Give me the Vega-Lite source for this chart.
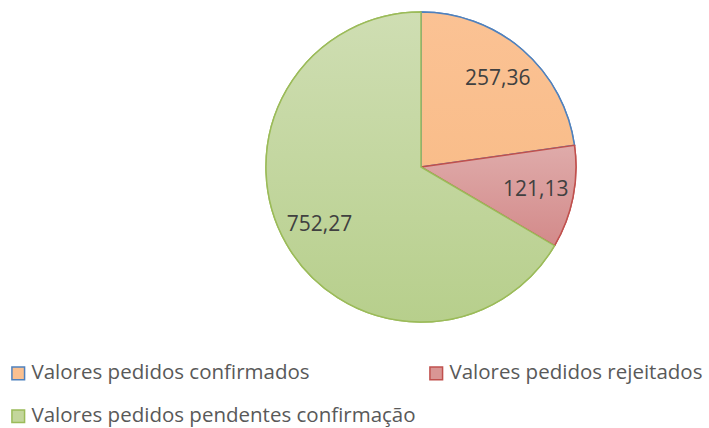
{
  "$schema": "https://vega.github.io/schema/vega-lite/v6.json",
  "width": 576,
  "height": 334,
  "padding": {"left": 8, "top": 0, "right": 0, "bottom": 94},
  "background": "white",
  "data": {
    "values": [
      {"categoria": "Valores pedidos confirmados", "valor": 257.36, "rotulo": "257,36", "ordem": 1},
      {"categoria": "Valores pedidos rejeitados", "valor": 121.13, "rotulo": "121,13", "ordem": 2},
      {"categoria": "Valores pedidos pendentes confirmação", "valor": 752.27, "rotulo": "752,27", "ordem": 3}
    ]
  },
  "encoding": {
    "theta": {"field": "valor", "type": "quantitative", "stack": true},
    "order": {"field": "ordem", "type": "quantitative"}
  },
  "layer": [
    {
      "mark": {"type": "arc", "outerRadius": 155, "strokeWidth": 1.5},
      "encoding": {
        "fill": {
          "field": "categoria", "type": "nominal",
          "scale": {
            "domain": ["Valores pedidos confirmados", "Valores pedidos rejeitados", "Valores pedidos pendentes confirmação"],
            "range": ["#FAC090", "#D99694", "#C3D69B"]
          },
          "legend": {
            "title": null, "orient": "none", "legendX": -125, "legendY": 363,
            "direction": "horizontal",
            "columns": 2, "columnPadding": 10, "rowPadding": 22,
            "symbolType": "square", "symbolSize": 160, "symbolStrokeWidth": 1.5,
            "symbolOpacity": 1, "labelFont": "Open Sans", "labelFontSize": 20.5,
            "labelColor": "#595959", "labelOffset": 3, "labelLimit": 600
          }
        },
        "stroke": {
          "field": "categoria", "type": "nominal",
          "scale": {
            "domain": ["Valores pedidos confirmados", "Valores pedidos rejeitados", "Valores pedidos pendentes confirmação"],
            "range": ["#4F81BD", "#C0504D", "#9BBB59"]
          },
          "legend": {
            "title": null, "orient": "none", "legendX": -125, "legendY": 363,
            "direction": "horizontal",
            "columns": 2, "columnPadding": 10, "rowPadding": 22,
            "symbolType": "square", "symbolSize": 160, "symbolStrokeWidth": 1.5,
            "symbolOpacity": 1, "labelFont": "Open Sans", "labelFontSize": 20.5,
            "labelColor": "#595959", "labelOffset": 3, "labelLimit": 600
          }
        }
      }
    },
    {
      "mark": {"type": "arc", "outerRadius": 155, "strokeWidth": 1.5},
      "encoding": {
        "fill": {
          "condition": [
            {"test": "datum.ordem === 1", "value": {"gradient": "linear", "x1": 0, "y1": 0, "x2": 0, "y2": 1, "stops": [{"offset": 0, "color": "#FBC294"}, {"offset": 1, "color": "#F9BD8A"}]}},
            {"test": "datum.ordem === 2", "value": {"gradient": "linear", "x1": 0, "y1": 0, "x2": 0, "y2": 1, "stops": [{"offset": 0, "color": "#DFABAA"}, {"offset": 1, "color": "#D38A8A"}]}}
          ],
          "value": {"gradient": "linear", "x1": 0, "y1": 0, "x2": 0, "y2": 1, "stops": [{"offset": 0, "color": "#CFDEB3"}, {"offset": 1, "color": "#B7CF8C"}]}
        },
        "stroke": {"field": "categoria", "type": "nominal", "legend": null}
      }
    },
    {
      "mark": {"type": "text", "radius": 117, "font": "Open Sans", "fontSize": 21, "color": "#404040"},
      "encoding": {
        "text": {"field": "rotulo", "type": "nominal"}
      }
    }
  ],
  "config": {"view": {"stroke": null}}
}
